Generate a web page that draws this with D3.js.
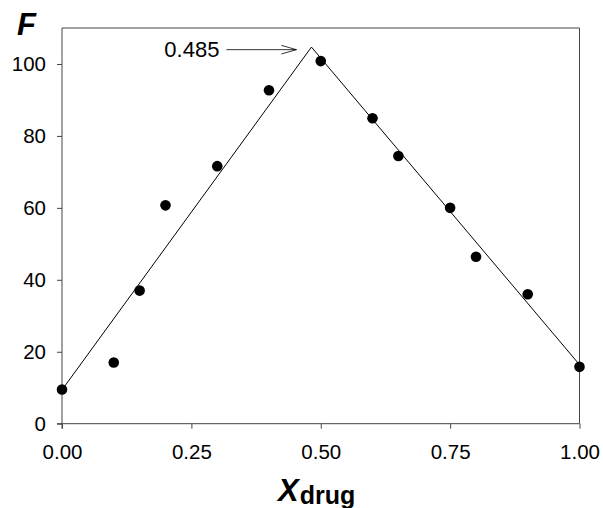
<!DOCTYPE html>
<html>
<head>
<meta charset="utf-8">
<script src="https://cdn.jsdelivr.net/npm/d3@7"></script>
<style>
  body { margin: 0; background: #fff; }
  text { font-family: Arial, "Liberation Sans", sans-serif; }
</style>
</head>
<body>
<div id="chart"></div>
<script>
// mole fraction of drug and measured F values
const xDrug = [0.00, 0.10, 0.15, 0.20, 0.30, 0.40, 0.50, 0.60, 0.65, 0.75, 0.80, 0.90, 1.00];
const fValues = [9.5, 17.0, 37.0, 60.7, 71.6, 92.7, 100.8, 84.9, 74.4, 60.0, 46.4, 36.0, 15.8];

// two fitted straight lines meeting at the break point
const leftFitX = [0.00, 0.482];
const leftFitY = [9.4, 104.7];
const rightFitX = [0.482, 1.00];
const rightFitY = [104.7, 16.4];

const xTicks = [0, 0.25, 0.5, 0.75, 1.0];
const yTicks = [0, 20, 40, 60, 80, 100];
const breakLabel = '0.485';

const width = 603, height = 508;
const margin = { top: 28, right: 23.5, bottom: 84.3, left: 62 };

const svg = d3.select('#chart')
  .append('svg')
  .attr('width', width)
  .attr('height', height);

const x = d3.scaleLinear().domain([0, 1]).range([margin.left, width - margin.right]);
const y = d3.scaleLinear().domain([0, 110]).range([height - margin.bottom, margin.top]);

const axisColor = '#444';

// frame (top and right)
svg.append('path')
  .attr('d', `M${x(0)},${y(110)}H${x(1)}V${y(0)}`)
  .attr('fill', 'none')
  .attr('stroke', axisColor)
  .attr('stroke-width', 1);

// x axis
const xAxis = svg.append('g')
  .attr('transform', `translate(0,${y(0)})`)
  .call(d3.axisBottom(x).tickValues(xTicks).tickFormat(d3.format('.2f')).tickSize(5).tickPadding(16));

// y axis
const yAxis = svg.append('g')
  .attr('transform', `translate(${x(0)},0)`)
  .call(d3.axisLeft(y).tickValues(yTicks).tickSize(5).tickPadding(11));

[xAxis, yAxis].forEach(function (g) {
  g.select('.domain').attr('stroke', axisColor);
  g.selectAll('.tick line').attr('stroke', axisColor);
  g.selectAll('.tick text')
    .attr('fill', '#000')
    .style('font-size', '20.5px')
    .style('font-family', 'Arial, "Liberation Sans", sans-serif');
});
// left/bottom domain lines extend slightly past the corner like the tick marks
xAxis.select('.domain').attr('d', `M${x(0) - 5},0H${x(1)}`);
yAxis.select('.domain').attr('d', `M0,${y(110)}V${y(0) + 5}`);

// fitted lines
const line = d3.line().x(d => x(d[0])).y(d => y(d[1]));
svg.append('path')
  .attr('d', line(d3.zip(leftFitX, leftFitY)))
  .attr('fill', 'none').attr('stroke', '#000').attr('stroke-width', 1);
svg.append('path')
  .attr('d', line(d3.zip(rightFitX, rightFitY)))
  .attr('fill', 'none').attr('stroke', '#000').attr('stroke-width', 1);

// data points
svg.append('g')
  .selectAll('circle')
  .data(d3.zip(xDrug, fValues))
  .enter()
  .append('circle')
  .attr('cx', d => x(d[0]))
  .attr('cy', d => y(d[1]))
  .attr('r', 5.3)
  .attr('fill', '#000');

// annotation with open arrow pointing at the break
const tipX = x(leftFitX[1]) - 15, tipY = y(104.7) + 2.6;
svg.append('text')
  .attr('x', tipX - 77)
  .attr('y', tipY + 7.5)
  .attr('text-anchor', 'end')
  .style('font-size', '22px')
  .text(breakLabel);
svg.append('path')
  .attr('d', `M${tipX - 70},${tipY}H${tipX}M${tipX - 15},${tipY - 4.3}L${tipX},${tipY}L${tipX - 15},${tipY + 4.3}`)
  .attr('fill', 'none')
  .attr('stroke', '#000')
  .attr('stroke-width', 0.8);

// axis titles
svg.append('text')
  .attr('x', 17)
  .attr('y', 35)
  .style('font-size', '31px')
  .style('font-weight', 'bold')
  .style('font-style', 'italic')
  .text('F');

const xt = svg.append('text')
  .attr('x', 278)
  .attr('y', 500.5)
  .style('font-weight', 'bold');
xt.append('tspan')
  .style('font-size', '31px')
  .style('font-style', 'italic')
  .text('X');
xt.append('tspan')
  .attr('dy', 3)
  .attr('dx', 1)
  .style('font-size', '25px')
  .text('drug');
</script>
</body>
</html>
